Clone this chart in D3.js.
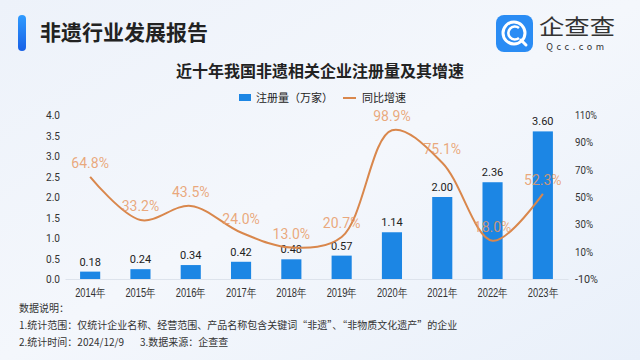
<!DOCTYPE html>
<html><head><meta charset="utf-8">
<script src="https://cdn.jsdelivr.net/npm/d3@7"></script>
<style>html,body{margin:0;padding:0;}svg{display:block;font-family:"Noto Sans CJK SC","Noto Sans",sans-serif;}</style>
</head><body>
<svg id="c" width="640" height="360"></svg>
<script>
const years = ["2014年","2015年","2016年","2017年","2018年","2019年","2020年","2021年","2022年","2023年"];
const counts = [0.18,0.24,0.34,0.42,0.48,0.57,1.14,2.00,2.36,3.60];
const growth = [64.8,33.2,43.5,24.0,13.0,20.7,98.9,75.1,18.0,52.3];
const leftTicks = [0,0.5,1.0,1.5,2.0,2.5,3.0,3.5,4.0];
const rightTicks = [-10,10,30,50,70,90,110];

const svg = d3.select("#c");
const defs = svg.append("defs");
const bg = defs.append("linearGradient").attr("id","bg").attr("x1","0").attr("y1","0").attr("x2","1").attr("y2","1");
bg.append("stop").attr("offset","0").attr("stop-color","#edf2fa");
bg.append("stop").attr("offset","0.5").attr("stop-color","#f4f7fc");
bg.append("stop").attr("offset","1").attr("stop-color","#e9f0fa");
svg.append("rect").attr("width",640).attr("height",360).attr("fill","url(#bg)");

const hb = defs.append("linearGradient").attr("id","hb").attr("x1","0").attr("y1","0").attr("x2","0").attr("y2","1");
hb.append("stop").attr("offset","0").attr("stop-color","#2f9bff");
hb.append("stop").attr("offset","1").attr("stop-color","#1860e6");
svg.append("rect").attr("x",18).attr("y",15).attr("width",8).attr("height",36).attr("rx",4).attr("fill","url(#hb)");
svg.append("text").attr("x",40).attr("y",40).attr("font-size",21).attr("font-weight","bold").attr("fill","#222").text("非遗行业发展报告");

// logo
const lg = svg.append("g");
lg.append("rect").attr("x",496).attr("y",15).attr("width",37).attr("height",37).attr("rx",8).attr("fill","#2a8cf4");
lg.append("circle").attr("cx",514).attr("cy",33).attr("r",11).attr("fill","none").attr("stroke","#fff").attr("stroke-width",3);
lg.append("path").attr("d","M519,28 A6.5,6.5 0 1 0 519,38").attr("fill","none").attr("stroke","#fff").attr("stroke-width",2.6);
lg.append("line").attr("x1",521).attr("y1",40).attr("x2",526).attr("y2",45).attr("stroke","#fff").attr("stroke-width",3).attr("stroke-linecap","round");
lg.append("text").attr("x",577).attr("y",34).attr("text-anchor","middle").attr("font-size",21).attr("fill","#333").attr("textLength",76).attr("lengthAdjust","spacingAndGlyphs").text("企查查");
lg.append("text").attr("x",577).attr("y",50).attr("text-anchor","middle").attr("font-size",9).attr("fill","#333").attr("letter-spacing","3.6").text("Qcc.com");

// chart title
svg.append("text").attr("x",320).attr("y",77).attr("text-anchor","middle").attr("font-size",16).attr("font-weight","bold").attr("fill","#222").text("近十年我国非遗相关企业注册量及其增速");

// legend
svg.append("rect").attr("x",239).attr("y",94).attr("width",12).attr("height",7).attr("fill","#1c86e4");
svg.append("text").attr("x",256).attr("y",102).attr("font-size",11).attr("fill","#222").text("注册量（万家）");
svg.append("line").attr("x1",343).attr("x2",356).attr("y1",98).attr("y2",98).attr("stroke","#d9874c").attr("stroke-width",2);
svg.append("text").attr("x",362).attr("y",102).attr("font-size",11).attr("fill","#222").text("同比增速");

const x = d3.scaleBand().domain(years).range([65,568]).paddingInner(0.6).paddingOuter(0.3);
const yL = d3.scaleLinear().domain([0,4]).range([279,115]);
const yR = d3.scaleLinear().domain([-10,110]).range([279,115]);

// axes
const axL = svg.append("g").attr("transform","translate(60,0)").call(d3.axisLeft(yL).tickValues(leftTicks).tickFormat(d3.format(".1f")).tickSize(0).tickPadding(0));
axL.select(".domain").remove();
axL.selectAll("text").attr("font-size",11).attr("fill","#333").attr("font-family","Roboto,'Noto Sans',sans-serif").attr("textLength",14).attr("lengthAdjust","spacingAndGlyphs");
const axR = svg.append("g").attr("transform","translate(575,0)").call(d3.axisRight(yR).tickValues(rightTicks).tickFormat(d=>d+"%").tickSize(0).tickPadding(0));
axR.select(".domain").remove();
axR.selectAll("text").attr("font-size",11).attr("fill","#333").attr("font-family","Roboto,'Noto Sans',sans-serif").attr("textLength",d=>d===110?22:(d<0?23:18)).attr("lengthAdjust","spacingAndGlyphs");
const axB = svg.append("g").attr("transform","translate(0,279)").call(d3.axisBottom(x).tickSize(0).tickPadding(9));
axB.select(".domain").attr("stroke","#dde3ec");
axB.selectAll("text").attr("font-size",12).attr("fill","#333").attr("textLength",30).attr("lengthAdjust","spacingAndGlyphs");

// bars
svg.append("g").selectAll("rect").data(counts).join("rect")
  .attr("x",(d,i)=>x(years[i])).attr("width",x.bandwidth())
  .attr("y",d=>yL(d)).attr("height",d=>279-yL(d)).attr("fill","#1c86e4");
svg.append("g").selectAll("text").data(counts).join("text")
  .attr("x",(d,i)=>x(years[i])+x.bandwidth()/2).attr("y",d=>yL(d)-6)
  .attr("text-anchor","middle").attr("font-size",11).attr("fill","#222").attr("font-family","Roboto,'Noto Sans',sans-serif")
  .text(d=>d.toFixed(2));

// line
const line = d3.line().x((d,i)=>x(years[i])+x.bandwidth()/2).y(d=>yR(d)).curve(d3.curveCatmullRom.alpha(0.5));
svg.append("path").datum(growth).attr("d",line).attr("fill","none").attr("stroke","#d9874c").attr("stroke-width",2);
svg.append("g").selectAll("text").data(growth).join("text")
  .attr("x",(d,i)=>x(years[i])+x.bandwidth()/2).attr("y",d=>yR(d)-9)
  .attr("text-anchor","middle").attr("font-size",14).attr("fill","#e89a66").attr("fill-opacity",0.85).attr("font-family","Roboto,'Noto Sans',sans-serif")
  .text(d=>d.toFixed(1)+"%");

// footnotes
const fn = ["数据说明：","1.统计范围：仅统计企业名称、经营范围、产品名称包含关键词“非遗”、“非物质文化遗产”的企业","2.统计时间：2024/12/9","3.数据来源：企查查"];
const fx = [19,19,19,140], fy = [312,329,346,346];
svg.append("g").selectAll("text").data(fn).join("text")
  .attr("x",(d,i)=>fx[i]).attr("y",(d,i)=>fy[i]).attr("font-size",10).attr("fill","#333").text(d=>d);
</script>
</body></html>
